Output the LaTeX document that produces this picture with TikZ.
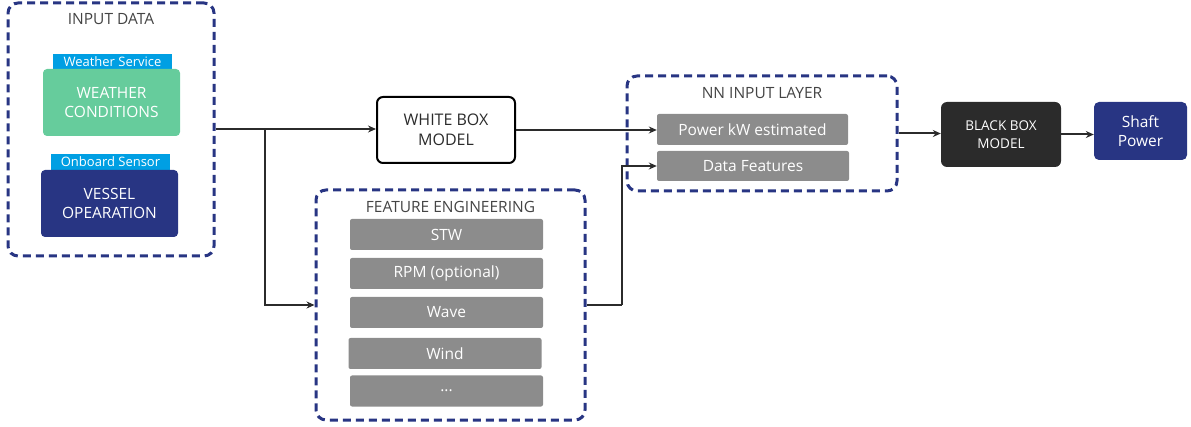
\documentclass[tikz,border=0pt]{standalone}
\usepackage{fontspec}
\setmainfont{Open Sans}
\usepackage{xcolor}
\usetikzlibrary{arrows.meta}
\definecolor{navy}{HTML}{283583}
\definecolor{wgreen}{HTML}{66CC9C}
\definecolor{tabblue}{HTML}{009FE3}
\definecolor{featgrey}{HTML}{8C8C8C}
\definecolor{titlegrey}{HTML}{444444}
\definecolor{boxblack}{HTML}{2B2B2B}

\begin{document}
\begin{tikzpicture}[
  x=1pt, y=-1pt,
  group/.style={draw=navy, line width=3pt, dash pattern=on 8pt off 5pt, rounded corners=10pt},
  grouptitle/.style={text=titlegrey, font=\fontsize{15.5}{17}\selectfont},
  tab/.style={fill=tabblue, text=white, inner sep=0pt, font=\fontsize{13}{14}\selectfont},
  source/.style={rounded corners=4pt, text=white, align=center, inner sep=0pt, font=\fontsize{15.5}{19}\selectfont},
  feature/.style={fill=featgrey, rounded corners=2pt, text=white, inner sep=0pt, font=\fontsize{15.5}{17}\selectfont},
  model/.style={rounded corners=6pt, align=center, inner sep=0pt},
  flow/.style={draw=boxblack, line width=2pt, -{Stealth[length=8pt, width=7pt]}},
  wire/.style={draw=boxblack, line width=2pt}
]
\useasboundingbox (0,0) rectangle (1191,427);

% input data
\node[group, minimum width=206pt, minimum height=253pt] (inbox) at (111,129.5) {};
\node[grouptitle] (intitle) at (111,19) {INPUT DATA};
\node[tab, minimum width=119pt, minimum height=15pt] (wstab) at (112.5,61.5) {Weather Service};
\node[source, fill=wgreen, minimum width=137pt, minimum height=67pt] (weather) at (111.5,102.5) {WEATHER\\CONDITIONS};
\node[tab, minimum width=119pt, minimum height=16pt] (ostab) at (110.5,162) {Onboard Sensor};
\node[source, fill=navy, minimum width=137pt, minimum height=67pt] (vessel) at (109.5,203.5) {VESSEL\\OPEARATION};

% white box model
\node[model, draw=black, line width=2pt, minimum width=138pt, minimum height=66pt,
  text=boxblack, font=\fontsize{16}{20}\selectfont] (white) at (446,130) {WHITE BOX\\MODEL};

% feature engineering
\node[group, minimum width=269pt, minimum height=230pt] (febox) at (450.5,305) {};
\node[grouptitle] (fetitle) at (450.5,207) {FEATURE ENGINEERING};
\node[feature, minimum width=193pt, minimum height=31pt] (stw) at (446.5,234.5) {STW};
\node[feature, minimum width=193pt, minimum height=31pt] (rpm) at (446.5,273.5) {RPM (optional)};
\node[feature, minimum width=193pt, minimum height=31pt] (wave) at (446.5,312.5) {Wave};
\node[feature, minimum width=193pt, minimum height=31pt] (wind) at (445,353.5) {Wind};
\node[feature, minimum width=193pt, minimum height=31pt] (more) at (446.5,391) {...};

% nn input layer
\node[group, minimum width=270pt, minimum height=115pt] (nnbox) at (762,133.5) {};
\node[grouptitle] (nntitle) at (762,93) {NN INPUT LAYER};
\node[feature, minimum width=191pt, minimum height=31pt] (power) at (752.5,129.5) {Power kW estimated};
\node[feature, minimum width=192pt, minimum height=30pt] (datafeat) at (753,166) {Data Features};

% black box and output
\node[model, fill=boxblack, text=white, minimum width=120pt, minimum height=65pt,
  font=\fontsize{13.5}{18}\selectfont] (black) at (1001,134.5) {BLACK BOX\\MODEL};
\node[model, fill=navy, text=white, rounded corners=5pt, minimum width=93pt, minimum height=58pt,
  font=\fontsize{15.5}{19}\selectfont] (shaft) at (1140.5,131) {Shaft\\Power};

% connectors
\coordinate (split) at (265,129);
\coordinate (jog) at (622,305);
\draw[flow] (inbox.east |- split) -- (split -| white.west);
\draw[flow] (split) |- (febox.west);
\draw[flow] (white.east) -- (white.east -| power.west);
\draw[wire] (febox.east) -- (jog);
\draw[flow] (jog) |- (datafeat.west);
\draw[flow] (nnbox.east) -- (nnbox.east -| black.west);
\draw[flow] (black.east) -- (black.east -| shaft.west);
\end{tikzpicture}
\end{document}
